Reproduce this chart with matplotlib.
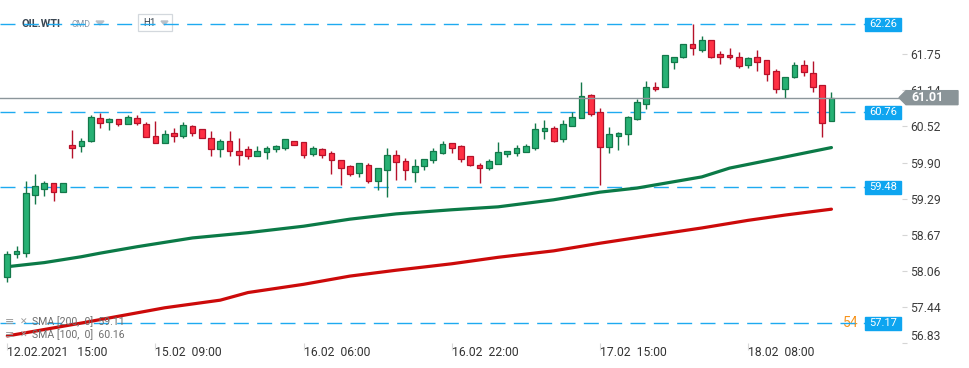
import numpy as np
import matplotlib
matplotlib.use('Agg')
import matplotlib.pyplot as plt
import matplotlib.transforms as mtransforms
from matplotlib.patches import Polygon, Rectangle, FancyBboxPatch

plt.rcParams['font.family'] = ['Roboto', 'DejaVu Sans']
plt.rcParams['lines.scale_dashes'] = False

# OIL.WTI H1 candles
opens = [57.96, 58.34, 58.37, 59.36, 59.45, 59.55, 59.40, 60.20, 60.18, 60.28,
         60.66, 60.59, 60.64, 60.56, 60.66, 60.56, 60.35, 60.23, 60.40, 60.36,
         60.52, 60.47, 60.32, 60.13, 60.28, 60.10, 60.13, 60.01, 60.08, 60.13,
         60.16, 60.27, 60.25, 60.05, 60.13, 60.06, 59.94, 59.85, 59.73, 59.87,
         59.59, 59.77, 60.04, 59.93, 59.75, 59.85, 59.94, 60.07, 60.23, 60.18,
         60.01, 59.86, 59.82, 59.88, 60.05, 60.07, 60.09, 60.16, 60.44, 60.50,
         60.30, 60.53, 60.67, 61.05, 60.76, 60.17, 60.36, 60.39, 60.65, 60.91,
         61.20, 61.19, 61.61, 61.71, 61.92, 61.83, 61.99, 61.75, 61.73, 61.70,
         61.57, 61.70, 61.65, 61.46, 61.16, 61.37, 61.56, 61.43, 61.22, 60.62]
highs = [58.40, 58.49, 59.59, 59.71, 59.59, 59.55, 59.55, 60.46, 60.33, 60.71,
         60.75, 60.66, 60.64, 60.71, 60.71, 60.59, 60.62, 60.46, 60.50, 60.59,
         60.54, 60.47, 60.44, 60.31, 60.44, 60.32, 60.19, 60.18, 60.19, 60.20,
         60.30, 60.27, 60.25, 60.18, 60.16, 60.10, 59.94, 59.87, 59.89, 59.89,
         59.81, 60.16, 60.11, 59.99, 59.96, 59.96, 60.16, 60.28, 60.23, 60.20,
         60.01, 59.89, 59.96, 60.25, 60.10, 60.20, 60.22, 60.57, 60.63, 60.52,
         60.63, 60.76, 61.28, 61.07, 60.83, 60.51, 60.42, 60.69, 60.99, 61.29,
         61.28, 61.73, 61.71, 61.92, 62.26, 62.06, 61.99, 61.80, 61.85, 61.78,
         61.70, 61.83, 61.66, 61.49, 61.37, 61.61, 61.66, 61.63, 61.22, 61.10]
lows = [57.87, 58.27, 58.30, 59.20, 59.34, 59.25, 59.40, 59.99, 60.09, 60.25,
        60.50, 60.46, 60.53, 60.56, 60.54, 60.34, 60.23, 60.23, 60.26, 60.33,
        60.36, 60.33, 60.02, 60.00, 60.02, 59.87, 59.97, 60.01, 59.96, 60.09,
        60.11, 60.20, 59.99, 60.02, 59.99, 59.71, 59.52, 59.68, 59.66, 59.56,
        59.44, 59.32, 59.61, 59.61, 59.58, 59.78, 59.90, 60.05, 60.07, 59.92,
        59.85, 59.56, 59.77, 59.88, 60.00, 60.02, 60.09, 60.12, 60.31, 60.25,
        60.26, 60.53, 60.67, 60.70, 59.53, 60.07, 60.11, 60.21, 60.63, 60.82,
        61.13, 61.19, 61.50, 61.69, 61.74, 61.78, 61.69, 61.59, 61.67, 61.52,
        61.52, 61.47, 61.30, 61.09, 61.00, 61.35, 61.38, 61.11, 60.34, 60.62]
closes = [58.34, 58.39, 59.38, 59.50, 59.55, 59.41, 59.55, 60.16, 60.27, 60.68,
          60.58, 60.64, 60.56, 60.68, 60.57, 60.34, 60.24, 60.39, 60.36, 60.54,
          60.41, 60.33, 60.13, 60.27, 60.10, 60.04, 60.01, 60.10, 60.15, 60.19,
          60.30, 60.20, 60.04, 60.15, 60.04, 59.94, 59.82, 59.71, 59.89, 59.59,
          59.81, 60.04, 59.92, 59.77, 59.84, 59.96, 60.10, 60.22, 60.16, 59.97,
          59.86, 59.82, 59.93, 60.08, 60.10, 60.15, 60.18, 60.47, 60.50, 60.28,
          60.56, 60.68, 61.03, 60.74, 60.17, 60.39, 60.40, 60.68, 60.93, 61.20,
          61.16, 61.73, 61.71, 61.92, 61.85, 61.99, 61.71, 61.70, 61.70, 61.55,
          61.68, 61.61, 61.42, 61.15, 61.36, 61.56, 61.45, 61.20, 60.58, 61.01]

# moving averages read at a few candle positions
sma100_idx = [0, 4, 8, 10, 14, 20, 26, 32, 37, 42, 48, 53, 59, 64, 68, 75, 78, 84, 89]
sma100_val = [58.13, 58.20, 58.30, 58.36, 58.47, 58.62, 58.71, 58.82, 58.94, 59.03,
              59.10, 59.15, 59.27, 59.40, 59.47, 59.66, 59.81, 60.00, 60.16]
sma200_idx = [0, 8, 17, 23, 26, 32, 37, 42, 48, 53, 59, 64, 69, 75, 80, 84, 89]
sma200_val = [56.95, 57.17, 57.43, 57.56, 57.69, 57.83, 57.97, 58.07, 58.18, 58.29,
              58.40, 58.53, 58.65, 58.79, 58.92, 59.01, 59.11]

levels = [62.26, 60.76, 59.48, 57.17]
last_price = 61.01
ytick_vals = [56.83, 57.44, 58.06, 58.67, 59.29, 59.90, 60.52, 61.14, 61.75]
xtick_idx = [0, 16, 32, 48, 64, 80]
xtick_labels = ['12.02.2021   15:00', '15.02  09:00', '16.02  06:00',
                '16.02  22:00', '17.02  15:00', '18.02  08:00']

W, H = 970, 368
step = 9.26          # px per candle
x0 = 7.3             # px of first candle
ppu = 58.68          # px per price unit

fig = plt.figure(figsize=(W / 100, H / 100), dpi=100)
ax = fig.add_axes([0, 25 / H, 902 / W, 343 / H])
ax.set_zorder(1)
ax.patch.set_visible(False)
ax.set_xlim(-x0 / step, (902 - x0) / step)
ax.set_ylim(56.83, 62.26 + 24.3 / ppu)
for s in ax.spines.values():
    s.set_visible(False)

o = np.array(opens)
c = np.array(closes)
idx = np.arange(len(o))
up = c >= o
body_col = np.where(up, '#27b174', '#ff3044')
edge_col = np.where(up, '#13784a', '#b5122a')

# moving averages
ax.plot(sma100_idx, sma100_val, color='#0b7a47', lw=2.3, zorder=2, solid_capstyle='round')
ax.plot(sma200_idx, sma200_val, color='#cc0a0a', lw=2.3, zorder=2, solid_capstyle='round')

# candles
ax.vlines(idx, lows, highs, colors=edge_col, lw=1.0, zorder=3)
ax.bar(idx, np.maximum(np.abs(c - o), 0.03), bottom=np.minimum(o, c), width=0.62,
       color=body_col, edgecolor=edge_col, linewidth=0.9, zorder=4)

# level lines
x_end = (865 - x0) / step
for lv in levels:
    ax.plot([ax.get_xlim()[0], x_end], [lv, lv], color='#1eaaf0', lw=1.0,
            ls=(0, (10.8, 6.0)), zorder=1)
ax.axhline(last_price, color='#8c969b', lw=1.0, zorder=5)

# axes ticks
ax.yaxis.tick_right()
ax.set_yticks(ytick_vals)
ax.set_yticklabels(['%.2f' % v for v in ytick_vals])
ax.tick_params(axis='y', direction='out', length=3.6, width=0.8, color='#d5d5d5',
               pad=2.5, labelsize=8.7, labelcolor='#3c3c3c')
ax.get_yticklabels()[0].set_va('bottom')
ax.set_xticks(xtick_idx)
ax.set_xticklabels(xtick_labels)
ax.tick_params(axis='x', direction='out', length=5, width=0.8, color='#d8d8d8',
               pad=-2.5, labelsize=8.7, labelcolor='#333333')
for lab in ax.get_xticklabels():
    lab.set_ha('left')

# right side labels
trans = mtransforms.blended_transform_factory(fig.transFigure, ax.transData)
for lv in levels:
    fig.add_artist(Rectangle((865 / W, lv - 6.5 / ppu), 36 / W, 13 / ppu,
                             transform=trans, color='#0ea5f0', zorder=6))
    fig.text(883 / W, lv, '%.2f' % lv, transform=trans, color='white', fontsize=8,
             ha='center', va='center', zorder=7)
fig.text(843 / W, levels[-1], '54', transform=trans, color='#f7941d', fontsize=10,
         ha='left', va='center', zorder=0.5)

d = 7 / ppu
fig.add_artist(Polygon([(899 / W, last_price), (906 / W, last_price + d), (958 / W, last_price + d),
                        (958 / W, last_price - d), (906 / W, last_price - d)],
                       closed=True, transform=trans, color='#8a9498', zorder=6))
fig.text(911 / W, last_price, '%.2f' % last_price, transform=trans, color='white',
         fontsize=9, fontweight='bold', ha='left', va='center', zorder=7)


def fp(x, y):
    return x / W, 1 - y / H


# header (drawn under the axes so the level line crosses it)
fig.text(*fp(22, 24), 'OIL.WTI', fontsize=7.8, fontweight='bold', color='#3a4652',
         va='center', zorder=0.5)
fig.text(*fp(72, 24.5), 'CMD', fontsize=6.3, color='#8a98a8', va='center', zorder=0.5)
fig.add_artist(Polygon([fp(96, 21), fp(104, 21), fp(100, 25)], closed=True,
                       transform=fig.transFigure, color='#b8c0c8', zorder=0.5))
bx, by = fp(138, 31)
fig.add_artist(FancyBboxPatch((bx, by), 34 / W, 17 / H, boxstyle='square,pad=0',
                              transform=fig.transFigure, facecolor='white',
                              edgecolor='#d3d8dd', lw=0.9, zorder=0.4))
fig.text(*fp(143, 23), 'H1', fontsize=7, color='#3a4652', va='center', zorder=0.5)
fig.add_artist(Polygon([fp(161, 21), fp(168, 21), fp(164.5, 25)], closed=True,
                       transform=fig.transFigure, color='#b8c0c8', zorder=0.5))

# indicator legend
for yy, name in [(322, 'SMA [200,  0]  %.2f' % sma200_val[-1]),
                 (335, 'SMA [100,  0]  %.2f' % sma100_val[-1])]:
    fig.text(*fp(5, yy), '\u2261', fontsize=8, color='#9a9a9a', va='center',
             family=['DejaVu Sans'], zorder=8)
    fig.text(*fp(20, yy), '\u2715', fontsize=6.5, color='#9a9a9a', va='center',
             family=['DejaVu Sans'], zorder=8)
    fig.text(*fp(32, yy), name, fontsize=7.6, color='#6e6e6e', va='center', zorder=8)

fig.savefig('out.png', dpi=100, facecolor='white')
